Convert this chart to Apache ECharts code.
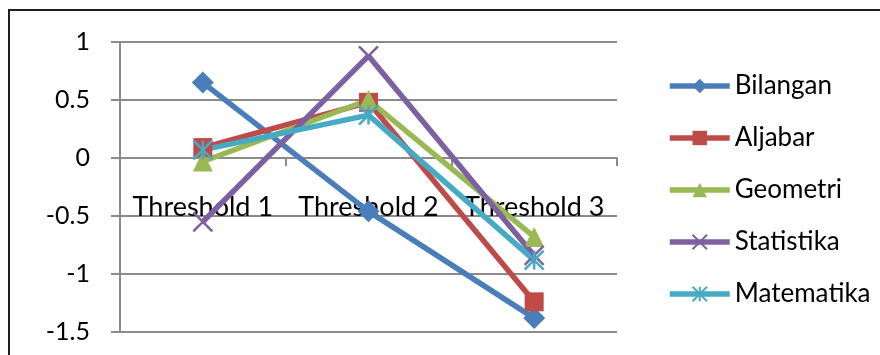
<!DOCTYPE html>
<html>
<head>
<meta charset="utf-8">
<script src="https://cdn.jsdelivr.net/npm/echarts@6/dist/echarts.min.js"></script>
<style>
  html, body { margin: 0; padding: 0; background: #fff; }
  #chart { width: 880px; height: 355px; }
</style>
</head>
<body>
<div id="chart"></div>
<script>
// Categories and series values
var categories = ['Threshold 1', 'Threshold 2', 'Threshold 3'];
var bilangan   = [0.65, -0.46, -1.38];
var aljabar    = [0.09, 0.48, -1.24];
var geometri   = [-0.03, 0.50, -0.68];
var statistika = [-0.55, 0.88, -0.84];
var matematika = [0.07, 0.37, -0.88];
var seriesNames = ['Bilangan', 'Aljabar', 'Geometri', 'Statistika', 'Matematika'];

var FONT = 'Lato';
var GRID_COLOR = '#8a8a8a';
var Y_MIN = -1.5, Y_MAX = 1;
var GRID_TOP = 42, GRID_BOTTOM = 23, CHART_H = 355;

// Category axis sits on the zero line: shift it up from the grid bottom
var plotH = CHART_H - GRID_TOP - GRID_BOTTOM;
var zeroOffset = -plotH * (0 - Y_MIN) / (Y_MAX - Y_MIN);

// Stroked marker outlines for the cross and star symbols
var crossPath = 'path://M0 0 L10 10 M10 0 L0 10';
var starPath = 'path://M0 0 L10 10 M10 0 L0 10 M5 0 L5 10';

function lineSeries(name, data, color, symbol, size, stroked) {
  var s = {
    name: name,
    type: 'line',
    data: data,
    symbol: symbol,
    symbolSize: size,
    lineStyle: { color: color, width: 5.5 },
    itemStyle: { color: color },
    emphasis: { disabled: true },
    animation: false
  };
  if (stroked) {
    s.itemStyle = { color: 'rgba(0,0,0,0)', borderColor: color, borderWidth: 2.5 };
  }
  return s;
}

var chart = echarts.init(document.getElementById('chart'));
chart.setOption({
  backgroundColor: '#fff',
  animation: false,
  graphic: [{
    type: 'rect',
    shape: { x: 9, y: 10, width: 900, height: 400 },
    style: { fill: 'none', stroke: '#1e1e1e', lineWidth: 2 },
    silent: true
  }],
  grid: { left: 120, right: 263, top: GRID_TOP, bottom: GRID_BOTTOM, containLabel: false, outerBoundsMode: 'none' },
  legend: {
    left: 662,
    top: 67,
    orient: 'vertical',
    itemWidth: 60,
    itemHeight: 18,
    itemGap: 24,
    lineStyle: { width: 5.5 },
    textStyle: { fontFamily: FONT, fontSize: 26, color: '#000', lineHeight: 28 },
    data: seriesNames
  },
  xAxis: {
    type: 'category',
    data: categories,
    position: 'bottom',
    offset: zeroOffset,
    axisLine: { onZero: false, lineStyle: { color: GRID_COLOR, width: 2 } },
    axisTick: { show: true, length: 8, lineStyle: { color: GRID_COLOR, width: 2 } },
    axisLabel: { fontFamily: FONT, fontSize: 27, color: '#000', margin: 36, interval: 0 },
    splitLine: { show: false }
  },
  yAxis: {
    type: 'value',
    min: Y_MIN,
    max: Y_MAX,
    interval: 0.5,
    axisLine: { show: true, lineStyle: { color: GRID_COLOR, width: 2 } },
    axisTick: { show: true, length: 9, lineStyle: { color: GRID_COLOR, width: 2 } },
    axisLabel: { fontFamily: FONT, fontSize: 25, color: '#000', margin: 30 },
    splitLine: { show: true, lineStyle: { color: GRID_COLOR, width: 2 } }
  },
  series: [
    lineSeries('Bilangan', bilangan, '#4a7ebb', 'diamond', 22, false),
    lineSeries('Aljabar', aljabar, '#be4b48', 'rect', 19, false),
    lineSeries('Geometri', geometri, '#98b954', 'triangle', 20, false),
    lineSeries('Statistika', statistika, '#7d60a0', crossPath, 19, true),
    lineSeries('Matematika', matematika, '#46aac5', starPath, 19, true)
  ]
});
</script>
</body>
</html>
